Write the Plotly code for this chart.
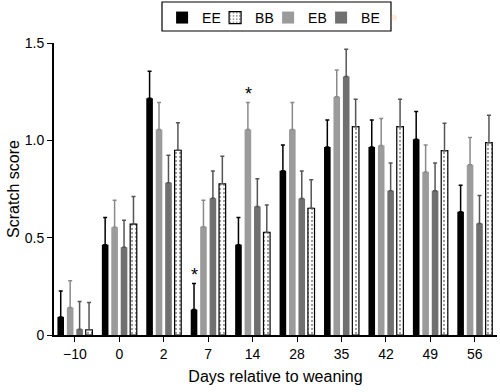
import plotly.graph_objects as go

days = ["\u221210", "0", "2", "7", "14", "28", "35", "42", "49", "56"]

ee = [0.093, 0.464, 1.216, 0.131, 0.464, 0.844, 0.966, 0.966, 1.005, 0.633]
ee_err = [0.133, 0.140, 0.139, 0.133, 0.140, 0.132, 0.138, 0.138, 0.143, 0.136]

eb = [0.141, 0.554, 1.056, 0.556, 1.056, 1.056, 1.224, 0.974, 0.837, 0.874]
eb_err = [0.138, 0.138, 0.138, 0.136, 0.138, 0.138, 0.137, 0.138, 0.139, 0.141]

be = [0.030, 0.451, 0.782, 0.702, 0.660, 0.701, 1.328, 0.741, 0.741, 0.573]
be_err = [0.142, 0.139, 0.141, 0.140, 0.143, 0.141, 0.140, 0.142, 0.142, 0.143]

bb = [0.027, 0.570, 0.949, 0.777, 0.527, 0.651, 1.070, 1.070, 0.947, 0.988]
bb_err = [0.140, 0.141, 0.141, 0.141, 0.141, 0.147, 0.141, 0.141, 0.141, 0.141]

font = "Liberation Sans, Arial, Helvetica, sans-serif"

series = [
    # name, values, errors, color, error color, legend rank
    ("EE", ee, ee_err, "#000000", "#000000", 1),
    ("EB", eb, eb_err, "#9b9b9b", "#8a8a8a", 3),
    ("BE", be, be_err, "#707070", "#555555", 4),
    ("BB", bb, bb_err, "#ffffff", "#555555", 2),
]

fig = go.Figure()
for name, vals, errs, col, ecol, rank in series:
    marker = dict(color=col, line=dict(width=0))
    if name == "BB":
        marker = dict(
            color="#ffffff",
            line=dict(color="#000000", width=1.2),
            pattern=dict(shape=".", fgcolor="#333333", bgcolor="#ffffff",
                         size=4, solidity=0.25),
        )
    fig.add_trace(go.Bar(
        name=name, x=days, y=vals, marker=marker, legendrank=rank,
        error_y=dict(type="data", array=errs, arrayminus=[0] * len(errs),
                     symmetric=False, color=ecol, thickness=1.5, width=2),
    ))

# invisible spacer legend entry so the last legend label is not clipped
fig.add_trace(go.Scatter(x=[days[0]], y=[0], mode="markers", name="\u00a0",
                         marker=dict(opacity=0), hoverinfo="skip",
                         legendrank=5, showlegend=True))

# significance stars: EE at day 7, EB at day 14
stars = [("7", ee, ee_err, -13.5), ("14", eb, eb_err, -4.5)]
for d, vals, errs, xs in stars:
    i = days.index(d)
    fig.add_annotation(x=i, y=vals[i] + errs[i], xref="x", yref="y",
                       text="*", showarrow=False,
                       xshift=xs, yshift=9,
                       font=dict(family=font, size=18, color="#000000"))

# legend frame
fig.add_shape(type="rect", xref="paper", yref="paper",
              x0=0.2438, x1=0.7607, y0=1.0411, y1=1.1404,
              line=dict(color="#000000", width=1.2), fillcolor="rgba(0,0,0,0)")

fig.update_layout(
    width=500, height=392,
    margin=dict(l=54, r=3, t=43, b=57, autoexpand=False),
    paper_bgcolor="white", plot_bgcolor="white",
    barmode="group", bargap=0.15, bargroupgap=0.3,
    font=dict(family=font, size=14, color="#000"),
    legend=dict(orientation="h", x=0.244, xanchor="left", xref="paper",
                y=0.995, yanchor="top", yref="container",
                borderwidth=0, bgcolor="rgba(0,0,0,0)",
                font=dict(family=font, size=14), itemwidth=30,
                entrywidth=8, entrywidthmode="pixels",
                tracegroupgap=0, traceorder="normal"),
    xaxis=dict(
        type="category", range=[-0.47, 9.5], automargin=False,
        showline=True, linecolor="#000", linewidth=2,
        ticks="outside", ticklen=5, tickwidth=1.2, tickcolor="#000",
        showgrid=False, zeroline=False,
        title=dict(text="Days relative to weaning", font=dict(size=16), standoff=10),
        tickfont=dict(size=14),
    ),
    yaxis=dict(
        range=[0, 1.5], automargin=False,
        tickvals=[0, 0.5, 1.0, 1.5], ticktext=["0", "0.5", "1.0", "1.5"],
        showline=True, linecolor="#000", linewidth=2,
        ticks="outside", ticklen=5, tickwidth=1.2, tickcolor="#000",
        showgrid=False, zeroline=False,
        title=dict(text="Scratch score", font=dict(size=16), standoff=1),
        tickfont=dict(size=14),
    ),
)

fig.write_html("out.html", config={"displayModeBar": False},
               post_script="document.body.style.margin='0';document.body.style.overflow='hidden';")
